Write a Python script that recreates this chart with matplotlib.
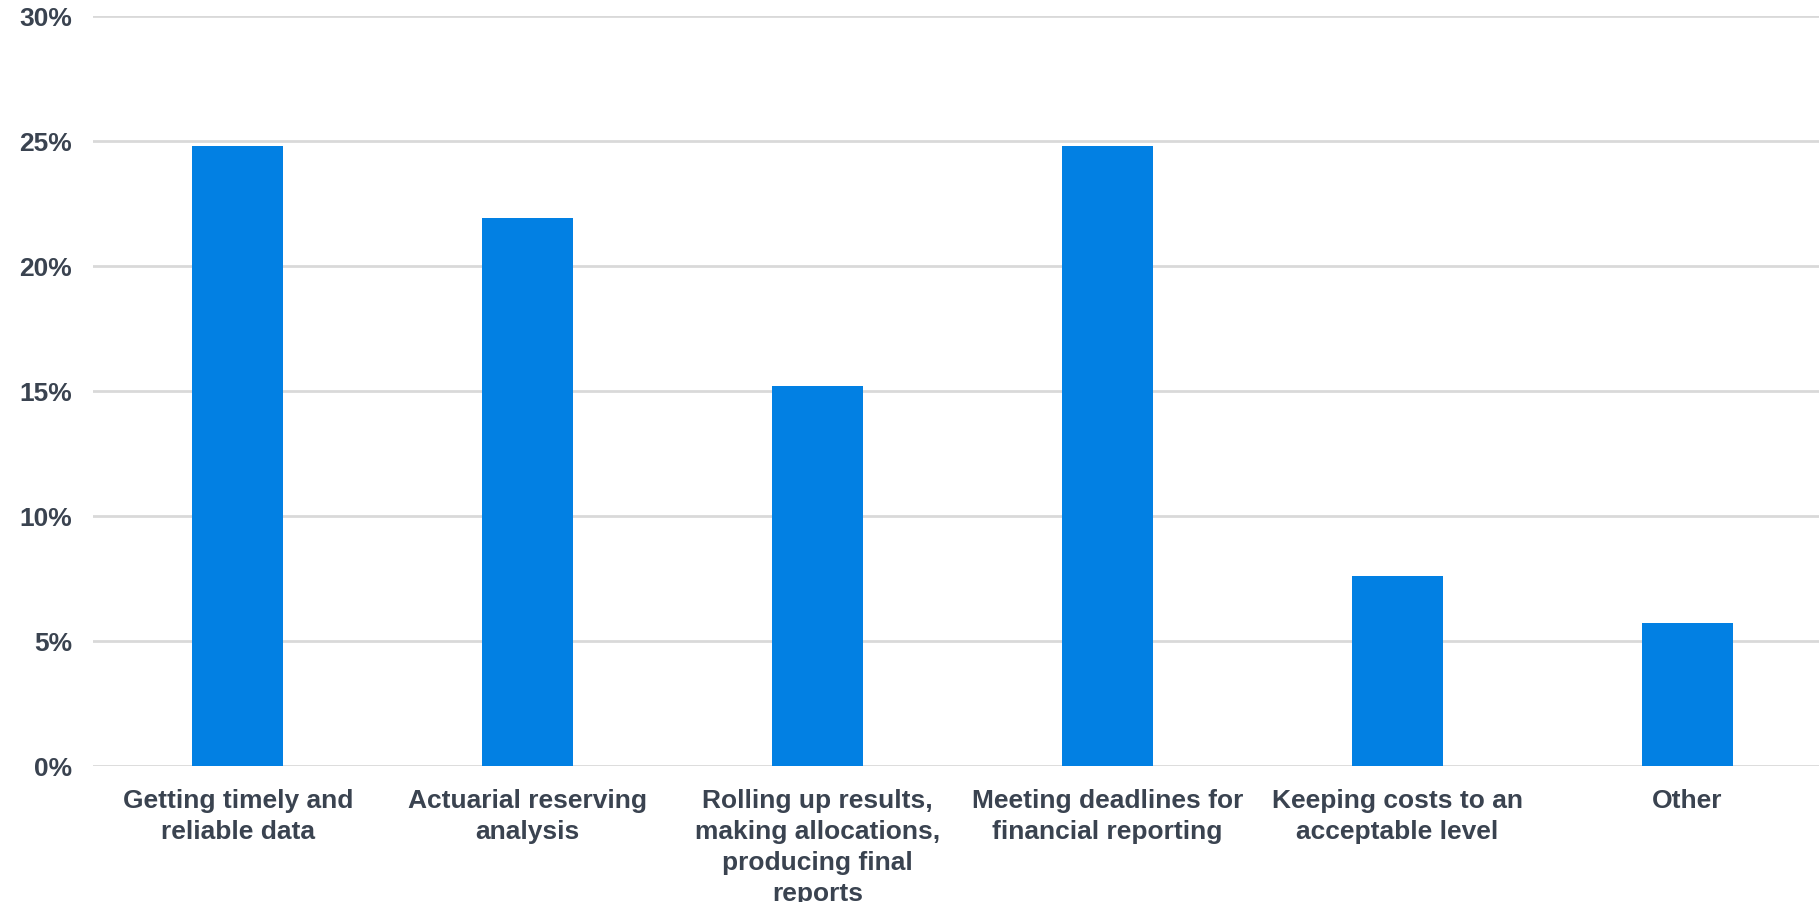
import numpy as np
import matplotlib.pyplot as plt
from matplotlib.ticker import PercentFormatter

# kategorie i udziały odpowiedzi (%)
categories = [
    "Getting timely and\nreliable data",
    "Actuarial reserving\nanalysis",
    "Rolling up results,\nmaking allocations,\nproducing final\nreports",
    "Meeting deadlines for\nfinancial reporting",
    "Keeping costs to an\nacceptable level",
    "Other",
]
shares = [24.8, 21.9, 15.2, 24.8, 7.6, 5.7]
y_ticks = [0, 5, 10, 15, 20, 25, 30]

BAR_COLOR = "#0280E3"
TEXT_COLOR = "#3A4350"
GRID_COLOR = "#D9D9D9"

plt.rcParams["font.family"] = ["Liberation Sans", "DejaVu Sans"]
plt.rcParams["font.weight"] = "bold"

fig = plt.figure(figsize=(18.19, 9.03), dpi=100)
# oś trochę wychodzi poza prawy brzeg rysunku
ax = fig.add_axes([93 / 1819, 0.1509, 1739 / 1819, 0.8306])

x = np.arange(len(categories))
ax.bar(x, shares, width=0.314, color=BAR_COLOR, zorder=3)

ax.set_xlim(-0.5, len(categories) - 0.5)
ax.set_ylim(0, 30)
ax.set_yticks(y_ticks)
ax.yaxis.set_major_formatter(PercentFormatter(decimals=0))
ax.set_xticks(x)
ax.set_xticklabels(categories, linespacing=1.37)

ax.grid(axis="y", color=GRID_COLOR, linewidth=2, zorder=0)
for s in ax.spines.values():
    s.set_visible(False)
ax.tick_params(axis="both", length=0, labelsize=19, labelcolor=TEXT_COLOR)
ax.tick_params(axis="y", pad=15)
ax.tick_params(axis="x", pad=16)
for lab in ax.get_xticklabels() + ax.get_yticklabels():
    lab.set_fontweight("bold")

fig.savefig("out.png", dpi=100, facecolor="white")
